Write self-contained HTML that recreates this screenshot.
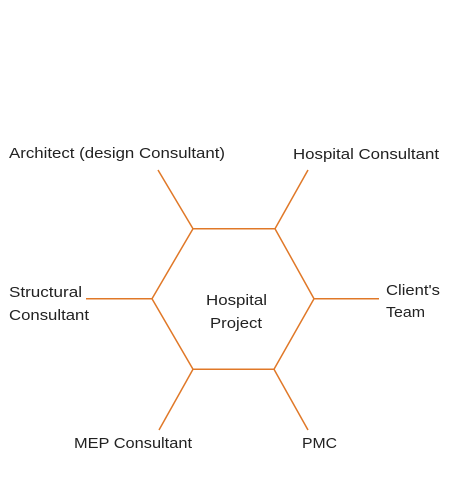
<!DOCTYPE html>
<html><head><meta charset="utf-8"><style>
html,body{margin:0;padding:0;background:#fff;}
svg{display:block;}
text{font-family:"Liberation Sans",sans-serif;font-size:15px;fill:#222;}
</style></head><body>
<svg width="450" height="477" viewBox="0 0 450 477">
<g stroke="#e07828" stroke-width="1.5" fill="none">
<polygon points="193,228.7 275,228.7 314,298.7 274,369.3 193,369.3 152,298.7"/>
<line x1="193" y1="228.7" x2="158" y2="170"/>
<line x1="275" y1="228.7" x2="308" y2="170"/>
<line x1="314" y1="298.7" x2="379" y2="298.7"/>
<line x1="274" y1="369.3" x2="308" y2="430"/>
<line x1="193" y1="369.3" x2="159" y2="430"/>
<line x1="152" y1="298.7" x2="86" y2="298.7"/>
</g>
<text x="9" y="158" textLength="216" lengthAdjust="spacingAndGlyphs">Architect (design Consultant)</text>
<text x="293" y="159" textLength="146" lengthAdjust="spacingAndGlyphs">Hospital Consultant</text>
<text x="9" y="297" textLength="73" lengthAdjust="spacingAndGlyphs">Structural</text>
<text x="9" y="320" textLength="80" lengthAdjust="spacingAndGlyphs">Consultant</text>
<text x="386" y="295" textLength="54" lengthAdjust="spacingAndGlyphs">Client's</text>
<text x="386" y="317" textLength="39" lengthAdjust="spacingAndGlyphs">Team</text>
<text x="206" y="305" textLength="61" lengthAdjust="spacingAndGlyphs">Hospital</text>
<text x="210" y="328" textLength="52" lengthAdjust="spacingAndGlyphs">Project</text>
<text x="74" y="448" textLength="118" lengthAdjust="spacingAndGlyphs">MEP Consultant</text>
<text x="302" y="448" textLength="35" lengthAdjust="spacingAndGlyphs">PMC</text>
</svg>
</body></html>
